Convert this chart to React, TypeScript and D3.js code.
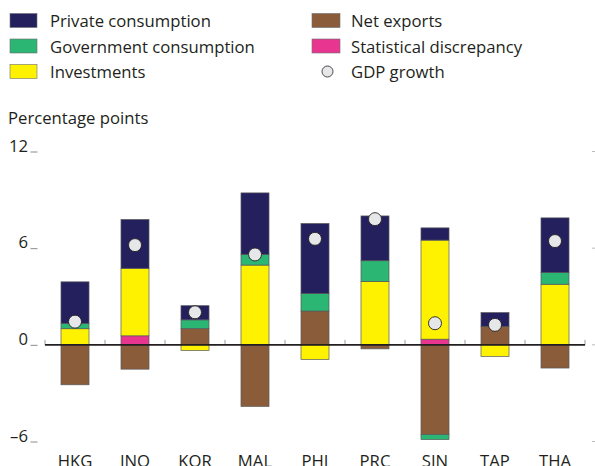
import React from "react";
import * as d3 from "d3";

const categories = ["HKG", "INO", "KOR", "MAL", "PHI", "PRC", "SIN", "TAP", "THA"];
const privateConsumption = [2.58, 3.03, 0.88, 3.82, 4.35, 2.78, 0.76, 0.87, 3.4];
const governmentConsumption = [0.33, 0, 0.54, 0.66, 1.08, 1.28, -0.31, 0, 0.72];
const investments = [1.0, 4.19, -0.35, 4.95, -0.91, 3.94, 6.15, -0.72, 3.76];
const netExports = [-2.48, -1.51, 1.01, -3.82, 2.1, -0.25, -5.57, 1.13, -1.44];
const statisticalDiscrepancy = [0, 0.56, 0, 0, 0, 0, 0.35, 0, 0];
const gdpGrowth = [1.44, 6.19, 2.02, 5.61, 6.58, 7.8, 1.34, 1.24, 6.44];
const yTicks = [-6, 0, 6, 12];

const seriesDefs = [
  { key: "stat", label: "Statistical discrepancy", values: statisticalDiscrepancy, color: "#e8358f" },
  { key: "net", label: "Net exports", values: netExports, color: "#8a5c3a" },
  { key: "inv", label: "Investments", values: investments, color: "#fff200" },
  { key: "gov", label: "Government consumption", values: governmentConsumption, color: "#2bb673" },
  { key: "priv", label: "Private consumption", values: privateConsumption, color: "#24205e" },
];

const FONT = "'Open Sans', 'Noto Sans', sans-serif";
const TEXT = "#231f20";
const FS = 16.7;

export default function App() {
  const x = d3
    .scaleBand<string>()
    .domain(categories)
    .range([45, 585])
    .paddingInner(0.533)
    .paddingOuter(0.2665);
  const y = d3.scaleLinear().domain([-6, 12]).range([441.5, 151.5]);

  const table = categories.map((c, i) => {
    const row: any = { cat: c };
    seriesDefs.forEach((s) => (row[s.key] = s.values[i]));
    return row;
  });
  const stacked = d3
    .stack<any>()
    .keys(seriesDefs.map((s) => s.key))
    .offset(d3.stackOffsetDiverging)(table);

  const legendLeft = [
    { label: "Private consumption", color: "#24205e" },
    { label: "Government consumption", color: "#2bb673" },
    { label: "Investments", color: "#fff200" },
  ];
  const legendRight = [
    { label: "Net exports", color: "#8a5c3a" },
    { label: "Statistical discrepancy", color: "#e8358f" },
  ];
  const rowY = [27, 52.5, 78];

  return (
    <svg
      width={595}
      height={466}
      style={{ position: "absolute", left: 0, top: 0, background: "#fff" }}
      fontFamily={FONT}
    >
      {/* Legend */}
      {legendLeft.map((l, i) => (
        <g key={l.label}>
          <rect x={10} y={rowY[i] - 13.5} width={27} height={14} fill={l.color} stroke="#6d6e71" strokeWidth={0.6} />
          <text x={50} y={rowY[i]} fontSize={FS} fill={TEXT}>
            {l.label}
          </text>
        </g>
      ))}
      {legendRight.map((l, i) => (
        <g key={l.label}>
          <rect x={312} y={rowY[i] - 13.5} width={28} height={14} fill={l.color} stroke="#6d6e71" strokeWidth={0.6} />
          <text x={351} y={rowY[i]} fontSize={FS} fill={TEXT}>
            {l.label}
          </text>
        </g>
      ))}
      <circle cx={327.5} cy={rowY[2] - 6.5} r={5.5} fill="#e6e7e8" stroke="#231f20" strokeWidth={0.8} />
      <text x={351} y={rowY[2]} fontSize={FS} fill={TEXT}>
        GDP growth
      </text>

      <text x={8} y={124} fontSize={FS} fill={TEXT}>
        Percentage points
      </text>

      {/* Y axis labels and ticks */}
      {yTicks.map((t) => (
        <g key={t}>
          <text x={28} y={y(t)} fontSize={FS} fill={TEXT} textAnchor="end">
            {t < 0 ? "\u2013" + Math.abs(t) : t}
          </text>
          <line x1={30.5} x2={37.5} y1={y(t) + 0.5} y2={y(t) + 0.5} stroke="#6d6e71" strokeWidth={0.8} />
          <line x1={592} x2={595} y1={y(t)} y2={y(t)} stroke="#a7a9ac" strokeWidth={0.8} />
        </g>
      ))}

      {/* Bars */}
      {stacked.map((layer, si) =>
        layer.map((d, i) => {
          if (seriesDefs[si].values[i] === 0) return null;
          const y0 = y(Math.max(d[0], d[1]));
          const y1 = y(Math.min(d[0], d[1]));
          return (
            <rect
              key={seriesDefs[si].key + i}
              x={x(categories[i])}
              y={y0}
              width={x.bandwidth()}
              height={y1 - y0}
              fill={seriesDefs[si].color}
              stroke="#58595b"
              strokeWidth={0.7}
            />
          );
        })
      )}

      {/* Category ticks */}
      {d3.range(categories.length + 1).map((k) => {
        const px = 45 + k * x.step();
        return <line key={k} x1={px} x2={px} y1={y(0) - 5} y2={y(0)} stroke="#808285" strokeWidth={0.8} />;
      })}

      {/* Zero line */}
      <line x1={45} x2={585} y1={y(0)} y2={y(0)} stroke="#231f20" strokeWidth={1.8} />

      {/* GDP growth dots */}
      {gdpGrowth.map((g, i) => (
        <circle
          key={"gdp" + i}
          cx={(x(categories[i]) as number) + x.bandwidth() / 2}
          cy={y(g)}
          r={6.5}
          fill="#e6e7e8"
          stroke="#231f20"
          strokeWidth={0.9}
        />
      ))}

      {/* X labels */}
      {categories.map((c) => (
        <text
          key={c}
          x={(x(c) as number) + x.bandwidth() / 2}
          y={467}
          fontSize={FS}
          fill={TEXT}
          textAnchor="middle"
        >
          {c}
        </text>
      ))}
    </svg>
  );
}
